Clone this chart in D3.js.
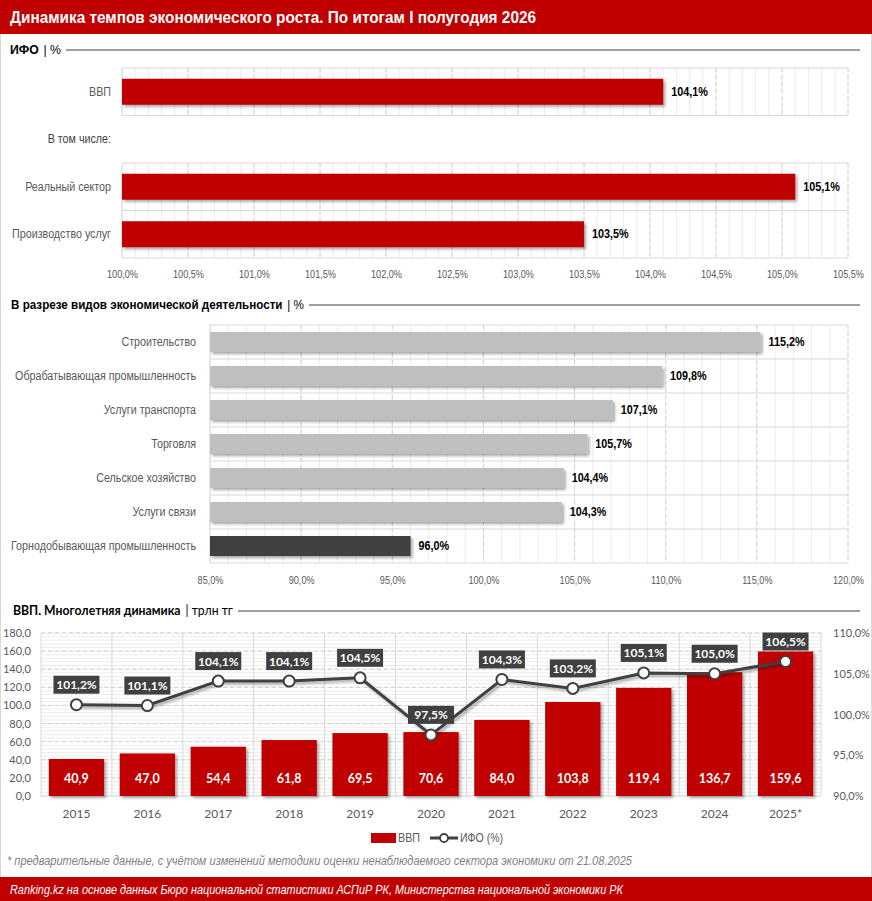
<!DOCTYPE html>
<html><head><meta charset="utf-8">
<script src="https://cdn.jsdelivr.net/npm/d3@7"></script>
<style>
html,body{margin:0;padding:0;background:#fff;}
svg{display:block;}
</style></head>
<body>
<script>
// ---------- DATA ----------
const title = "Динамика темпов экономического роста. По итогам I полугодия 2026";
const ifoCats = ["ВВП", "В том числе:", "Реальный сектор", "Производство услуг"];
const ifoVals = [104.1, null, 105.1, 103.5];
const ifoTicks = [100.0, 100.5, 101.0, 101.5, 102.0, 102.5, 103.0, 103.5, 104.0, 104.5, 105.0, 105.5];

const sectorCats = ["Строительство", "Обрабатывающая промышленность", "Услуги транспорта", "Торговля", "Сельское хозяйство", "Услуги связи", "Горнодобывающая промышленность"];
const sectorVals = [115.2, 109.8, 107.1, 105.7, 104.4, 104.3, 96.0];
const sectorTicks = [85, 90, 95, 100, 105, 110, 115, 120];

const years = ["2015", "2016", "2017", "2018", "2019", "2020", "2021", "2022", "2023", "2024", "2025*"];
const gdpVals = [40.9, 47.0, 54.4, 61.8, 69.5, 70.6, 84.0, 103.8, 119.4, 136.7, 159.6];
const gdpIfo = [101.2, 101.1, 104.1, 104.1, 104.5, 97.5, 104.3, 103.2, 105.1, 105.0, 106.5];
const leftTicks = [0, 20, 40, 60, 80, 100, 120, 140, 160, 180];
const rightTicks = [90, 95, 100, 105, 110];

const footnote = "* предварительные данные, с учётом изменений методики оценки ненаблюдаемого сектора экономики от 21.08.2025";
const source = "Ranking.kz на основе данных Бюро национальной статистики АСПиР РК, Министерства национальной экономики РК";

// ---------- SETUP ----------
const RED = "#c00000", DARK = "#404040", GRAYTXT = "#595959";
const NARROW = "'Liberation Sans', Arial, sans-serif";
const SANS = "Lato, 'Open Sans', sans-serif";
const loc = d3.formatLocale({decimal: ",", thousands: " ", grouping: [3], currency: ["", ""]});
const f1 = loc.format(".1f");
const pct = v => f1(v) + "%";

const W = 872, H = 901;
const svg = d3.select("body").append("svg").attr("width", W).attr("height", H);
const defs = svg.append("defs");
const sh = defs.append("filter").attr("id", "shadow").attr("x", "-10%").attr("y", "-30%").attr("width", "130%").attr("height", "180%");
sh.append("feDropShadow").attr("dx", 2).attr("dy", 2).attr("stdDeviation", 1.8).attr("flood-color", "#000").attr("flood-opacity", 0.35);

// helpers to emulate a condensed face
function fitW(sel, target) {
  sel.each(function () { d3.select(this).attr("textLength", target).attr("lengthAdjust", "spacingAndGlyphs"); });
  return sel;
}
function squeeze(sel, k) {
  sel.each(function () {
    const w = this.getComputedTextLength();
    d3.select(this).attr("textLength", w * k).attr("lengthAdjust", "spacingAndGlyphs");
  });
  return sel;
}
function measure(txt, size, weight, font) {
  const t = svg.append("text").attr("font-family", font || NARROW).attr("font-size", size).attr("font-weight", weight || "normal").text(txt);
  const w = t.node().getComputedTextLength();
  t.remove();
  return w;
}
const LBL = 12, VAL = 12, TCK = 11.5;
const kLbl = 185 / measure("Горнодобывающая промышленность", LBL);
const kVal = 36 / measure("115,2%", VAL, "bold");
const kTck = 31 / measure("100,0%", TCK);

// frame
svg.append("rect").attr("x", 0.5).attr("y", 0.5).attr("width", W - 1).attr("height", H - 1).attr("fill", "none").attr("stroke", "#d9d9d9");

// header band
svg.append("rect").attr("x", 0).attr("y", 0).attr("width", W).attr("height", 34).attr("fill", RED);
fitW(svg.append("text").attr("x", 10).attr("y", 23).attr("fill", "#fff").attr("font-family", NARROW)
  .attr("font-weight", "bold").attr("font-size", 17).text(title), 526);

function sectionHeader(x, y, bold, normal, font, size, target) {
  const w1 = measure(bold, size, "bold", font), w2 = measure(normal, size, "normal", font);
  const gap = measure("n", size, "normal", font) * 0.7;
  const k = target / (w1 + gap + w2);
  const g = svg.append("g").attr("transform", `translate(${x},${y}) scale(${k},1)`);
  g.append("text").attr("x", 0).attr("y", 0).attr("font-family", font).attr("font-size", size)
    .attr("font-weight", "bold").attr("fill", "#000").text(bold);
  g.append("text").attr("x", w1 + gap).attr("y", 0).attr("font-family", font).attr("font-size", size)
    .attr("fill", "#000").text(normal);
  svg.append("line").attr("x1", x + target + 5).attr("x2", 860).attr("y1", y - 4).attr("y2", y - 4)
    .attr("stroke", "#404040").attr("stroke-width", 1.2);
}

// ---------- SECTION 1 ----------
sectionHeader(10, 54, "ИФО", "| %", NARROW, 13, 51);
{
  const x = d3.scaleLinear().domain([100, 105.5]).range([122, 848]);
  const y = d3.scaleBand().domain(ifoCats).range([68, 258]);
  const g = svg.append("g");
  const minor = d3.range(0, 56).map(i => 100 + i * 0.1);
  ifoCats.forEach((c, i) => {
    if (ifoVals[i] === null) return;
    const y0 = y(c), y1 = y0 + y.bandwidth();
    g.selectAll(null).data(minor).enter().append("line")
      .attr("x1", d => x(d)).attr("x2", d => x(d)).attr("y1", y0).attr("y2", y1)
      .attr("stroke", "#ececec").attr("stroke-width", 1);
    g.selectAll(null).data(ifoTicks).enter().append("line")
      .attr("x1", d => x(d)).attr("x2", d => x(d)).attr("y1", y0).attr("y2", y1)
      .attr("stroke", d => d === 100 ? "#d9d9d9" : "#d0d0d0").attr("stroke-dasharray", d => d === 100 ? null : "4,3").attr("stroke-width", 1);
    [y0, y1].forEach(yy => g.append("line").attr("x1", x(100)).attr("x2", x(105.5)).attr("y1", yy).attr("y2", yy).attr("stroke", "#d9d9d9"));
  });
  const bh = 26;
  ifoCats.forEach((c, i) => {
    const yc = y(c) + y.bandwidth() / 2;
    squeeze(svg.append("text").attr("x", 111).attr("y", yc + 4).attr("text-anchor", "end")
      .attr("font-family", NARROW).attr("font-size", LBL).attr("fill", i === 1 ? "#404040" : GRAYTXT).text(c), kLbl);
    if (ifoVals[i] === null) return;
    svg.append("rect").attr("x", x(100)).attr("y", yc - bh / 2).attr("width", x(ifoVals[i]) - x(100)).attr("height", bh)
      .attr("fill", RED).attr("filter", "url(#shadow)");
    squeeze(svg.append("text").attr("x", x(ifoVals[i]) + 8).attr("y", yc + 4).attr("font-family", NARROW)
      .attr("font-weight", "bold").attr("font-size", VAL).attr("fill", "#000").text(pct(ifoVals[i])), kVal);
  });
  const ax = svg.append("g").attr("transform", "translate(0,271)")
    .call(d3.axisBottom(x).tickValues(ifoTicks).tickFormat(pct).tickSize(0));
  ax.select(".domain").remove();
  squeeze(ax.selectAll("text").attr("font-family", NARROW).attr("font-size", TCK).attr("fill", GRAYTXT).attr("dy", "0.35em"), kTck);
}

// ---------- SECTION 2 ----------
sectionHeader(11, 309, "В разрезе видов экономической деятельности", "| %", NARROW, 13, 293);
{
  const x = d3.scaleLinear().domain([85, 120]).range([210, 848]);
  const y = d3.scaleBand().domain(sectorCats).range([325, 563]);
  const g = svg.append("g");
  const minor = d3.range(0, 36).map(i => 85 + i);
  g.selectAll(null).data(minor).enter().append("line")
    .attr("x1", d => x(d)).attr("x2", d => x(d)).attr("y1", 325).attr("y2", 563)
    .attr("stroke", "#ececec");
  g.selectAll(null).data(sectorTicks).enter().append("line")
    .attr("x1", d => x(d)).attr("x2", d => x(d)).attr("y1", 325).attr("y2", 563)
    .attr("stroke", d => d === 85 ? "#d9d9d9" : "#d0d0d0").attr("stroke-dasharray", d => d === 85 ? null : "4,3");
  const rows = sectorCats.map(c => y(c)).concat([563]);
  g.selectAll(null).data(rows).enter().append("line")
    .attr("x1", x(85)).attr("x2", x(120)).attr("y1", d => d).attr("y2", d => d).attr("stroke", "#d9d9d9");
  const bh = 20;
  sectorCats.forEach((c, i) => {
    const yc = y(c) + y.bandwidth() / 2;
    squeeze(svg.append("text").attr("x", 196).attr("y", yc + 4).attr("text-anchor", "end")
      .attr("font-family", NARROW).attr("font-size", LBL).attr("fill", GRAYTXT).text(c), kLbl);
    svg.append("rect").attr("x", x(85)).attr("y", yc - bh / 2).attr("width", x(sectorVals[i]) - x(85)).attr("height", bh)
      .attr("fill", i === sectorCats.length - 1 ? DARK : "#bfbfbf").attr("filter", "url(#shadow)");
    squeeze(svg.append("text").attr("x", x(sectorVals[i]) + 8).attr("y", yc + 4).attr("font-family", NARROW)
      .attr("font-weight", "bold").attr("font-size", VAL).attr("fill", "#000").text(pct(sectorVals[i])), kVal);
  });
  const ax = svg.append("g").attr("transform", "translate(0,577)")
    .call(d3.axisBottom(x).tickValues(sectorTicks).tickFormat(pct).tickSize(0));
  ax.select(".domain").remove();
  squeeze(ax.selectAll("text").attr("font-family", NARROW).attr("font-size", TCK).attr("fill", GRAYTXT).attr("dy", "0.35em"), kTck);
}

// ---------- SECTION 3 ----------
sectionHeader(13, 615, "ВВП. Многолетняя динамика", "| трлн тг", SANS, 13, 220);
{
  const x = d3.scaleBand().domain(years).range([41, 821]).paddingInner(0.22).paddingOuter(0.11);
  const xb = d3.scaleBand().domain(years).range([41, 821]);
  const yL = d3.scaleLinear().domain([0, 180]).range([796, 633]);
  const yR = d3.scaleLinear().domain([90, 110]).range([796, 633]);
  const g = svg.append("g");
  const minor = d3.range(0, 46).map(i => i * 4);
  g.selectAll(null).data(minor).enter().append("line")
    .attr("x1", 41).attr("x2", 821).attr("y1", d => yL(d)).attr("y2", d => yL(d)).attr("stroke", "#ececec");
  g.selectAll(null).data(leftTicks.slice(1)).enter().append("line")
    .attr("x1", 41).attr("x2", 821).attr("y1", d => yL(d)).attr("y2", d => yL(d))
    .attr("stroke", "#d0d0d0").attr("stroke-dasharray", "4,3");
  g.selectAll(null).data(years).enter().append("line")
    .attr("x1", d => xb(d)).attr("x2", d => xb(d)).attr("y1", 633).attr("y2", 796).attr("stroke", "#d9d9d9");
  g.append("line").attr("x1", 821).attr("x2", 821).attr("y1", 633).attr("y2", 796).attr("stroke", "#d9d9d9");
  g.append("line").attr("x1", 41).attr("x2", 821).attr("y1", 796).attr("y2", 796).attr("stroke", "#d9d9d9");

  svg.append("g").selectAll(null).data(years).enter().append("rect")
    .attr("x", d => x(d)).attr("width", x.bandwidth())
    .attr("y", (d, i) => yL(gdpVals[i])).attr("height", (d, i) => yL(0) - yL(gdpVals[i]))
    .attr("fill", RED).attr("filter", "url(#shadow)");
  svg.append("g").selectAll(null).data(years).enter().append("text")
    .attr("x", d => x(d) + x.bandwidth() / 2).attr("y", 783).attr("text-anchor", "middle")
    .attr("font-family", SANS).attr("font-weight", "bold").attr("font-size", 12.5).attr("fill", "#fff")
    .text((d, i) => f1(gdpVals[i]));

  const cx = d => xb(d) + xb.bandwidth() / 2;
  const line = d3.line().x((d, i) => cx(years[i])).y(d => yR(d));
  svg.append("path").datum(gdpIfo).attr("d", line).attr("fill", "none").attr("stroke", DARK)
    .attr("stroke-width", 3).attr("filter", "url(#shadow)");
  svg.append("g").selectAll(null).data(gdpIfo).enter().append("circle")
    .attr("cx", (d, i) => cx(years[i])).attr("cy", d => yR(d)).attr("r", 5.5)
    .attr("fill", "#fff").attr("stroke", DARK).attr("stroke-width", 2);
  const lg = svg.append("g").selectAll(null).data(gdpIfo).enter().append("g")
    .attr("transform", (d, i) => `translate(${cx(years[i])},${yR(d) - 20})`);
  lg.append("rect").attr("x", -23).attr("y", -9).attr("width", 46).attr("height", 18).attr("fill", DARK);
  lg.append("text").attr("y", 4.5).attr("text-anchor", "middle").attr("font-family", SANS)
    .attr("font-weight", "bold").attr("font-size", 12).attr("fill", "#fff").text(d => pct(d));

  const axL = svg.append("g").attr("transform", "translate(34,0)")
    .call(d3.axisLeft(yL).tickValues(leftTicks).tickFormat(f1).tickSize(0));
  axL.select(".domain").remove();
  axL.selectAll("text").attr("font-family", SANS).attr("font-size", 11).attr("fill", GRAYTXT);
  const axR = svg.append("g").attr("transform", "translate(830,0)")
    .call(d3.axisRight(yR).tickValues(rightTicks).tickFormat(pct).tickSize(0));
  axR.select(".domain").remove();
  axR.selectAll("text").attr("font-family", SANS).attr("font-size", 11).attr("fill", GRAYTXT);
  const axB = svg.append("g").attr("transform", "translate(0,806)")
    .call(d3.axisBottom(xb).tickSize(0));
  axB.select(".domain").remove();
  axB.selectAll("text").attr("font-family", SANS).attr("font-size", 12).attr("fill", GRAYTXT).attr("dy", "0.71em");

  // legend
  const leg = svg.append("g").attr("transform", "translate(0,838)");
  leg.append("rect").attr("x", 371).attr("y", -5).attr("width", 25).attr("height", 10).attr("fill", RED);
  fitW(leg.append("text").attr("x", 398).attr("y", 4).attr("font-family", NARROW).attr("font-size", 12).attr("fill", GRAYTXT).text("ВВП"), 22);
  leg.append("line").attr("x1", 430).attr("x2", 458).attr("y1", 0).attr("y2", 0).attr("stroke", DARK).attr("stroke-width", 3);
  leg.append("circle").attr("cx", 444).attr("cy", 0).attr("r", 4).attr("fill", "#fff").attr("stroke", DARK).attr("stroke-width", 1.8);
  fitW(leg.append("text").attr("x", 460).attr("y", 4).attr("font-family", NARROW).attr("font-size", 12).attr("fill", GRAYTXT).text("ИФО (%)"), 43);
}

// footnote
fitW(svg.append("text").attr("x", 7).attr("y", 865).attr("font-family", NARROW).attr("font-style", "italic")
  .attr("font-size", 13).attr("fill", "#7f7f7f").text(footnote), 625);
// footer band
svg.append("rect").attr("x", 0).attr("y", 877).attr("width", W).attr("height", 24).attr("fill", RED);
fitW(svg.append("text").attr("x", 10).attr("y", 894).attr("font-family", NARROW).attr("font-style", "italic")
  .attr("font-size", 13).attr("fill", "#fff").text(source), 613);
</script>
</body></html>
